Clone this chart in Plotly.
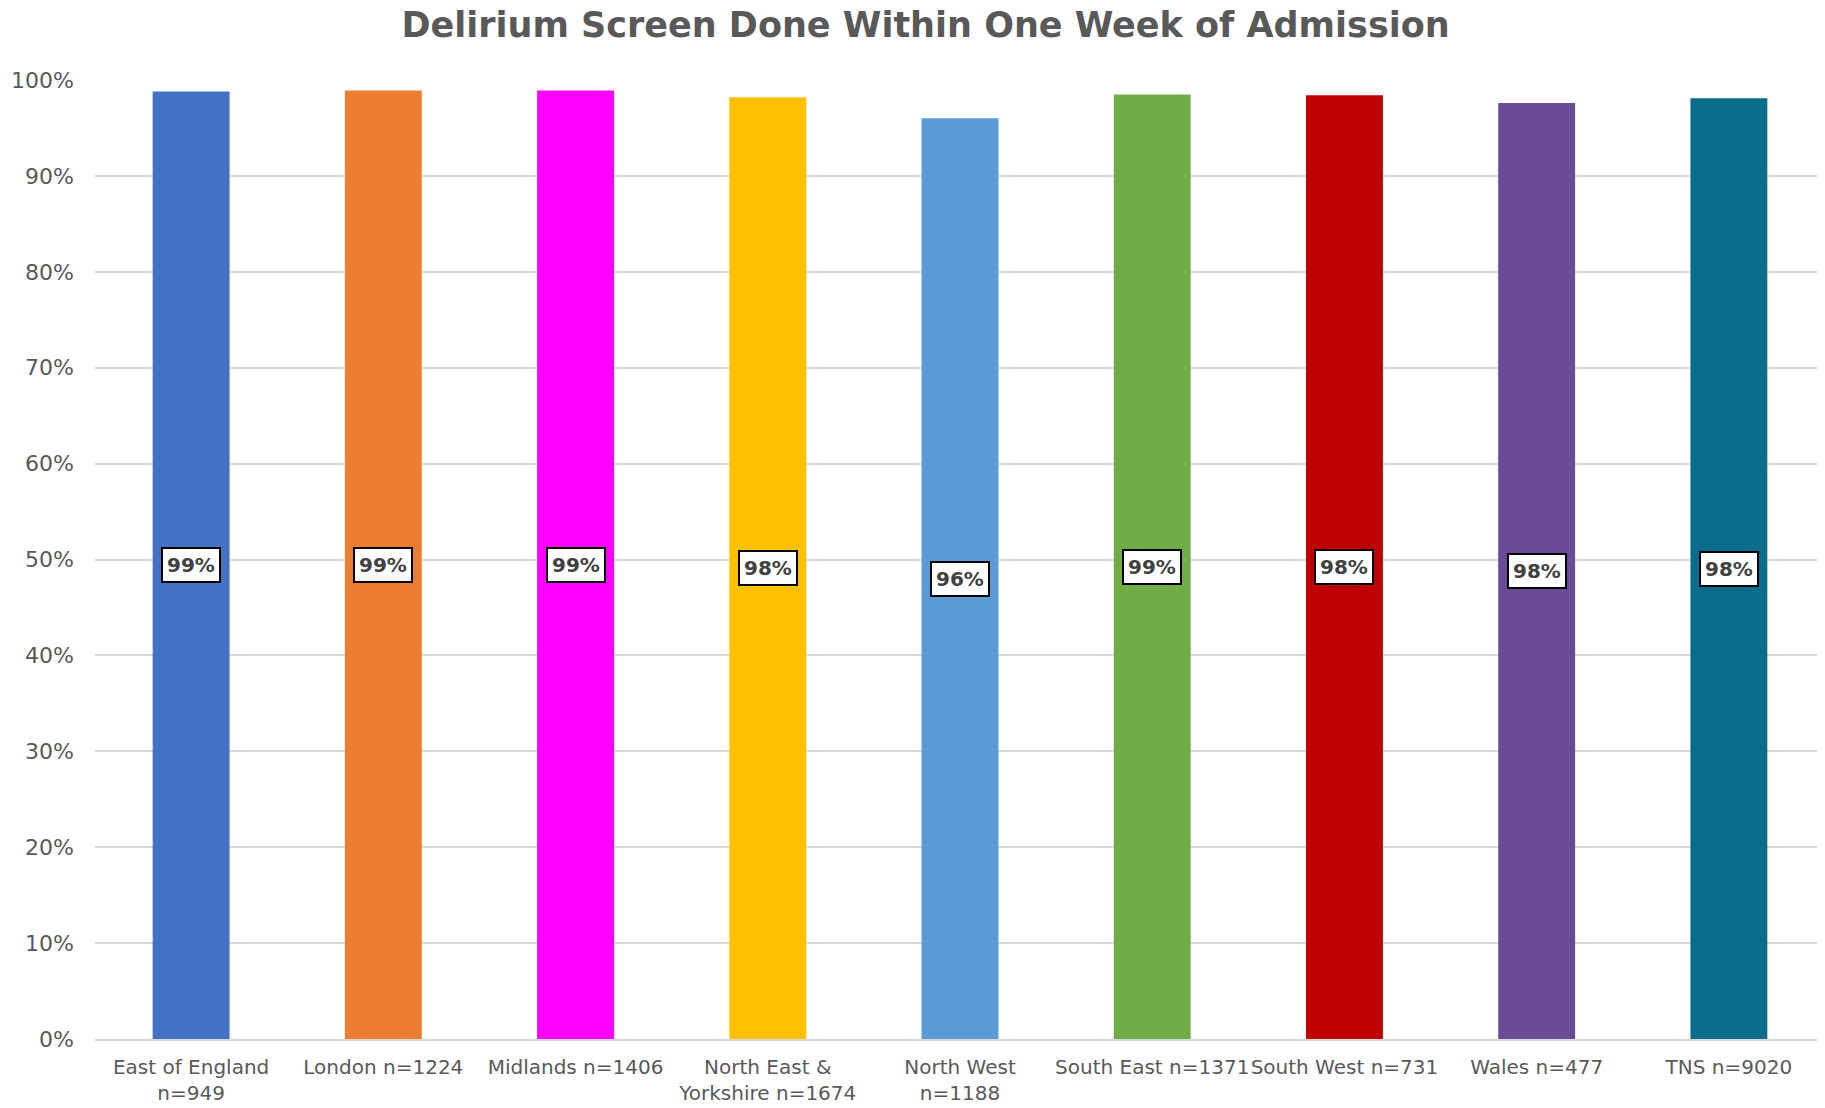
import plotly.graph_objects as go

categories = ["East of England<br>n=949", "London n=1224", "Midlands n=1406",
              "North East &<br>Yorkshire n=1674", "North West<br>n=1188",
              "South East n=1371", "South West n=731", "Wales n=477", "TNS n=9020"]
values = [98.8, 98.9, 98.9, 98.2, 96.0, 98.5, 98.4, 97.6, 98.1]
labels = ["99%", "99%", "99%", "98%", "96%", "99%", "98%", "98%", "98%"]
colors = ["#4472C4", "#ED7D31", "#FF00FF", "#FFC000", "#5B9BD5",
          "#70AD47", "#C00000", "#6A4B98", "#086D8D"]
tick_vals = [0, 10, 20, 30, 40, 50, 60, 70, 80, 90, 100]
tick_text = [f"{v}%" for v in tick_vals]

FONT = "DejaVu Sans"

fig = go.Figure(go.Bar(x=categories, y=values, marker=dict(color=colors, line=dict(width=0)),
                       width=0.4, hoverinfo="skip"))

for c, v, t in zip(categories, values, labels):
    fig.add_annotation(x=c, y=v / 2, xref="x", yref="y", text=f"<b>{t}</b>", showarrow=False,
                       font=dict(family=FONT, size=20, color="#404040"),
                       bgcolor="white", bordercolor="black", borderwidth=2, borderpad=4,
                       yanchor="middle", xanchor="center")

fig.update_layout(
    width=1817, height=1100,
    margin=dict(l=87, r=0, t=72, b=69),
    paper_bgcolor="white", plot_bgcolor="white",
    title=dict(text="<b>Delirium Screen Done Within One Week of Admission</b>",
               x=0.505, xanchor="center", y=1 - 17 / 1100, yanchor="middle",
               font=dict(family=FONT, size=35, color="#595959")),
    showlegend=False,
    xaxis=dict(showgrid=False, showline=True, linecolor="#d9d9d9", linewidth=2,
               tickfont=dict(family=FONT, size=20, color="#595959"), ticks="",
               tickangle=0, ticklabelstandoff=9, automargin=False),
    yaxis=dict(range=[0, 100], tickvals=tick_vals, ticktext=tick_text,
               showgrid=True, gridcolor="#d9d9d9", gridwidth=2, zeroline=False,
               tickfont=dict(family=FONT, size=22, color="#595959"), ticks="",
               ticklabelstandoff=20, automargin=False),
)

fig.write_html("out.html")
